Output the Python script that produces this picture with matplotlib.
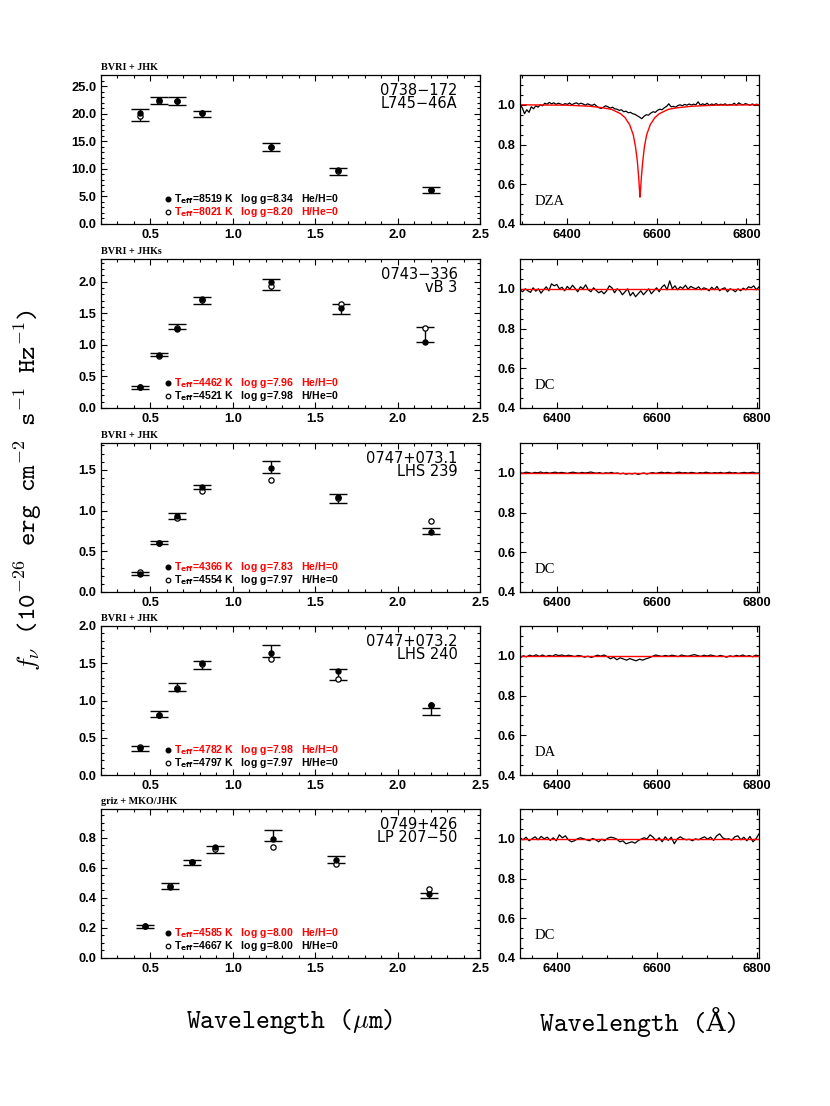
import numpy as np
import matplotlib
matplotlib.use("Agg")
from matplotlib import pyplot as plt
from matplotlib.ticker import MultipleLocator, FormatStrFormatter
from matplotlib.font_manager import FontProperties

plt.rcParams['mathtext.fontset'] = 'cm'

# ---- photometry (observed flux + error, H model = filled, He model = open)
wave_a = [0.438, 0.55, 0.66, 0.814, 1.234, 1.64, 2.204]
obs_a = [19.75, 22.4, 22.3, 19.9, 14.0, 9.5, 6.2]
err_a = [1.05, 0.7, 0.68, 0.6, 0.75, 0.6, 0.5]
hmod_a = [20.06, 22.5, 22.2, 20.06, 13.9, 9.8, 6.08]
hemod_a = [19.5, 22.3, 22.3, 20.2, 13.9, 9.6, 6.2]

wave_b = [0.438, 0.55, 0.66, 0.814, 1.234, 1.658, 2.164]
obs_b = [0.32, 0.842, 1.29, 1.70, 1.96, 1.567, 1.165]
err_b = [0.026, 0.026, 0.04, 0.053, 0.087, 0.083, 0.125]
hmod_b = [0.326, 0.842, 1.258, 1.73, 2.0, 1.58, 1.042]
hemod_b = [0.33, 0.816, 1.263, 1.716, 1.93, 1.64, 1.268]

wave_c = [0.438, 0.55, 0.66, 0.814, 1.234, 1.64, 2.204]
obs_c = [0.23, 0.605, 0.934, 1.29, 1.535, 1.146, 0.753]
err_c = [0.017, 0.02, 0.037, 0.03, 0.076, 0.056, 0.037]
hmod_c = [0.222, 0.597, 0.938, 1.284, 1.527, 1.165, 0.741]
hemod_c = [0.247, 0.597, 0.91, 1.235, 1.374, 1.152, 0.87]

wave_d = [0.438, 0.55, 0.66, 0.814, 1.234, 1.64, 2.204]
obs_d = [0.355, 0.817, 1.185, 1.478, 1.667, 1.348, 0.855]
err_d = [0.034, 0.04, 0.051, 0.049, 0.083, 0.076, 0.047]
hmod_d = [0.362, 0.804, 1.156, 1.50, 1.638, 1.40, 0.946]
hemod_d = [0.37, 0.81, 1.165, 1.487, 1.554, 1.29, 0.933]

wave_e = [0.468, 0.62, 0.75, 0.894, 1.244, 1.624, 2.192]
obs_e = [0.2125, 0.478, 0.636, 0.72, 0.813, 0.655, 0.416]
err_e = [0.01, 0.02, 0.018, 0.024, 0.035, 0.021, 0.018]
hmod_e = [0.211, 0.471, 0.637, 0.738, 0.793, 0.654, 0.425]
hemod_e = [0.211, 0.476, 0.641, 0.725, 0.738, 0.623, 0.46]

names = [["0738\u2212172", "L745\u221246A"], ["0743\u2212336", "vB 3"],
         ["0747+073.1", "LHS 239"], ["0747+073.2", "LHS 240"],
         ["0749+426", "LP 207\u221250"]]
bands = ["BVRI + JHK", "BVRI + JHKs", "BVRI + JHK", "BVRI + JHK", "griz + MKO/JHK"]
fit_h = [("8519", "8.34"), ("4462", "7.96"), ("4366", "7.83"), ("4782", "7.98"), ("4585", "8.00")]
fit_he = [("8021", "8.20"), ("4521", "7.98"), ("4554", "7.97"), ("4797", "7.97"), ("4667", "8.00")]
sptypes = ["DZA", "DC", "DC", "DA", "DC"]

# ---- spectra (normalized flux, read by eye)
spec_range = [(6296, 6828), (6325, 6805), (6325, 6805), (6325, 6805), (6325, 6805)]
flux_a = [1.000, 0.985, 0.955, 0.975, 0.962, 0.990, 0.980, 0.995, 0.988, 1.000,
          0.995, 1.008, 1.003, 1.012, 1.005, 1.010, 1.002, 1.008, 1.004, 1.000,
          1.006, 1.002, 1.009, 1.000, 1.006, 1.010, 1.003, 1.008, 1.004, 0.998,
          1.005, 1.000, 0.997, 1.003, 0.993, 0.985, 0.982, 0.988, 0.995, 0.990,
          0.983, 0.988, 0.980, 0.978, 0.972, 0.975, 0.965, 0.968, 0.960, 0.962,
          0.955, 0.952, 0.945, 0.938, 0.930, 0.942, 0.950, 0.948, 0.958, 0.965,
          0.962, 0.972, 0.978, 0.975, 0.985, 0.992, 1.005, 0.990, 0.992, 0.988,
          0.996, 1.000, 0.995, 1.002, 0.998, 1.004, 0.999, 1.003, 1.000, 1.015,
          0.998, 1.005, 1.000, 1.008, 0.997, 1.004, 1.000, 1.006, 0.998, 1.003,
          1.000, 1.005, 0.997, 1.002, 1.000, 1.008, 0.998, 1.010, 1.003, 1.000,
          1.006, 1.002, 0.998, 1.004, 1.000, 1.003, 0.999]
flux_b = [0.995, 0.985, 1.000, 0.990, 0.982, 1.005, 0.988, 1.000, 0.978, 0.995,
          1.010, 0.990, 1.025, 1.015, 1.022, 1.000, 1.008, 0.990, 1.012, 0.998,
          1.018, 1.002, 0.985, 1.010, 1.000, 1.020, 0.995, 0.985, 1.005, 0.992,
          0.980, 0.988, 0.975, 0.990, 1.015, 1.005, 0.980, 1.000, 0.990, 0.970,
          0.985, 1.000, 0.965, 0.982, 0.960, 0.975, 0.990, 0.970, 0.985, 1.000,
          0.975, 0.990, 1.005, 0.985, 1.008, 1.020, 0.995, 1.040, 1.000, 1.015,
          0.995, 1.010, 1.002, 1.018, 0.998, 1.012, 1.005, 1.000, 1.010, 0.995,
          1.005, 1.000, 0.990, 1.008, 0.995, 1.012, 0.990, 1.000, 1.005, 0.985,
          1.000, 0.995, 0.985, 1.000, 0.990, 1.003, 0.995, 1.010, 1.005, 1.015,
          0.995, 1.010]
flux_c = [1.000, 0.998, 1.003, 1.001, 0.997, 1.002, 1.000, 1.004, 0.999, 1.002,
          0.998, 1.001, 1.003, 0.999, 1.002, 1.000, 0.997, 1.001, 1.003, 1.000,
          0.998, 1.002, 0.999, 1.001, 1.004, 1.000, 0.998, 1.001, 0.996, 1.000,
          0.998, 1.002, 0.997, 0.999, 0.995, 0.998, 0.993, 0.997, 0.994, 0.998,
          0.992, 0.996, 0.999, 0.994, 0.998, 1.001, 0.997, 1.000, 1.003, 0.999,
          1.002, 1.000, 0.997, 1.001, 1.003, 0.999, 1.001, 0.998, 1.002, 1.000,
          0.997, 1.001, 0.999, 1.003, 1.000, 0.998, 1.001, 0.999, 1.002, 0.998,
          1.000, 1.003, 0.999, 1.001, 0.997, 1.000, 1.002, 0.999, 1.001, 1.003,
          0.998, 1.000]
flux_d = [0.990, 1.000, 0.995, 1.003, 0.998, 1.005, 0.997, 1.004, 0.996, 1.002,
          0.998, 1.006, 1.001, 1.004, 0.999, 1.003, 1.000, 0.996, 1.002, 0.999,
          0.993, 0.998, 0.992, 0.997, 1.003, 0.998, 1.004, 0.996, 0.985, 0.993,
          0.980, 0.990, 0.984, 0.978, 0.986, 0.980, 0.975, 0.983, 0.978, 0.985,
          0.990, 0.997, 1.004, 1.000, 0.997, 1.002, 0.998, 1.003, 1.000, 0.996,
          1.004, 1.000, 0.998, 1.002, 1.006, 1.001, 0.997, 1.003, 0.999, 1.004,
          1.000, 0.996, 1.002, 0.998, 0.993, 1.000, 0.996, 1.002, 0.998, 1.004,
          0.997, 1.001, 0.995, 1.003, 1.000]
flux_e = [1.005, 0.995, 1.008, 0.990, 1.000, 1.010, 0.995, 1.012, 1.000, 1.008,
          0.992, 1.005, 0.990, 1.020, 1.005, 1.015, 0.995, 0.985, 0.990, 1.000,
          1.005, 1.000, 0.995, 0.990, 1.002, 0.995, 0.985, 0.998, 0.990, 1.003,
          1.008, 1.005, 0.998, 0.985, 0.990, 0.975, 0.980, 0.985, 0.978, 0.990,
          0.998, 1.005, 1.000, 1.020, 1.008, 0.990, 1.005, 0.985, 1.010, 0.992,
          1.008, 0.975, 1.000, 1.010, 1.000, 0.995, 0.998, 0.990, 1.000, 0.995,
          1.003, 1.010, 0.998, 1.008, 0.992, 1.015, 1.025, 1.005, 0.998, 1.000,
          0.993, 1.010, 1.015, 0.995, 1.008, 0.990, 1.012, 0.985, 1.000, 1.025]

# model H-alpha profile for 0738-172, flat models elsewhere
model_wave_a = [6296, 6400, 6450, 6480, 6500, 6520, 6530, 6540, 6548, 6553, 6557,
                6560, 6562, 6563, 6564, 6566, 6569, 6573, 6578, 6586, 6596, 6606,
                6626, 6646, 6680, 6730, 6828]
model_flux_a = [1.0, 0.998, 0.993, 0.985, 0.977, 0.955, 0.935, 0.90, 0.85, 0.79, 0.72,
                0.64, 0.57, 0.535, 0.56, 0.63, 0.71, 0.79, 0.85, 0.90, 0.935, 0.955,
                0.977, 0.985, 0.993, 0.998, 1.0]

phot = [(wave_a, obs_a, err_a, hmod_a, hemod_a), (wave_b, obs_b, err_b, hmod_b, hemod_b),
        (wave_c, obs_c, err_c, hmod_c, hemod_c), (wave_d, obs_d, err_d, hmod_d, hemod_d),
        (wave_e, obs_e, err_e, hmod_e, hemod_e)]
spectra = [flux_a, flux_b, flux_c, flux_d, flux_e]
ylims = [27.0, 2.36, 1.83, 2.0, 0.99]
ymajor = [5.0, 0.5, 0.5, 0.5, 0.2]
yminor = [1.0, 0.1, 0.1, 0.1, 0.05]
h_red = [False, True, True, True, True]   # which fit line is red

tick_fp = FontProperties(family='Liberation Sans', weight='bold', size=9.3)

fig = plt.figure(figsize=(8.3, 11.06), dpi=100)
W, H = 830.0, 1106.0
tops = [75, 259, 443, 626, 809]
ph = 149

def style_axes(ax):
    ax.tick_params(which='both', direction='in', top=True, right=True, width=0.8)
    ax.tick_params(which='major', length=4.5)
    ax.tick_params(which='minor', length=2.2)
    for lab in ax.get_xticklabels() + ax.get_yticklabels():
        lab.set_fontproperties(tick_fp)
    for s in ax.spines.values():
        s.set_linewidth(0.9)

for i in range(5):
    bottom = 1 - (tops[i] + ph) / H
    axl = fig.add_axes([101 / W, bottom, 379 / W, ph / H])
    axr = fig.add_axes([520 / W, bottom, 239 / W, ph / H])

    wv, ob, er, hm, hem = phot[i]
    axl.errorbar(wv, ob, yerr=er, fmt='none', ecolor='black', elinewidth=1.0,
                 capsize=6.7, capthick=1.0)
    axl.plot(wv, hem, 'o', mfc='white', mec='black', mew=0.9, ms=3.8)
    axl.plot(wv, hm, 'o', color='black', ms=3.6)
    axl.set_xlim(0.2, 2.5)
    axl.set_ylim(0, ylims[i])
    axl.xaxis.set_major_locator(MultipleLocator(0.5))
    axl.xaxis.set_minor_locator(MultipleLocator(0.1))
    axl.yaxis.set_major_locator(MultipleLocator(ymajor[i]))
    axl.yaxis.set_minor_locator(MultipleLocator(yminor[i]))
    axl.xaxis.set_major_formatter(FormatStrFormatter('%.1f'))
    axl.yaxis.set_major_formatter(FormatStrFormatter('%.1f'))
    style_axes(axl)

    axl.text(0.941, 0.895, names[i][0], transform=axl.transAxes, ha='right', va='center',
             family='DejaVu Sans', size=10.5)
    axl.text(0.941, 0.806, names[i][1], transform=axl.transAxes, ha='right', va='center',
             family='DejaVu Sans', size=10.5)
    axl.text(0.0, 1.02, bands[i], transform=axl.transAxes, ha='left', va='bottom',
             family='Liberation Serif', weight='bold', size=7.3)

    c1 = 'red' if h_red[i] else 'black'
    c2 = 'black' if h_red[i] else 'red'
    t1 = r'T$_{\bf eff}$=%s K   log g=%s   He/H=0' % fit_h[i]
    t2 = r'T$_{\bf eff}$=%s K   log g=%s   H/He=0' % fit_he[i]
    axl.plot([0.176], [0.167], 'o', color='black', ms=3.3, transform=axl.transAxes)
    axl.plot([0.176], [0.078], 'o', mfc='white', mec='black', mew=0.9, ms=3.3,
             transform=axl.transAxes)
    axl.text(0.193, 0.167, t1, transform=axl.transAxes, ha='left', va='center', color=c1,
             family='Liberation Sans', weight='bold', size=7.6, math_fontfamily='dejavusans')
    axl.text(0.193, 0.078, t2, transform=axl.transAxes, ha='left', va='center', color=c2,
             family='Liberation Sans', weight='bold', size=7.6, math_fontfamily='dejavusans')

    w0, w1 = spec_range[i]
    fl = spectra[i]
    axr.plot(np.linspace(w0, w1, len(fl)), fl, color='black', lw=0.9)
    if i == 0:
        axr.plot(model_wave_a, model_flux_a, color='red', lw=1.0)
    else:
        axr.plot([w0, w1], [1.0, 1.0], color='red', lw=1.0)
    axr.set_xlim(w0, w1)
    axr.set_ylim(0.4, 1.15)
    axr.xaxis.set_major_locator(MultipleLocator(200))
    axr.xaxis.set_minor_locator(MultipleLocator(50))
    axr.yaxis.set_major_locator(MultipleLocator(0.2))
    axr.yaxis.set_minor_locator(MultipleLocator(0.05))
    axr.yaxis.set_major_formatter(FormatStrFormatter('%.1f'))
    style_axes(axr)
    axr.text(0.063, 0.15, sptypes[i], transform=axr.transAxes, ha='left', va='center',
             family='Liberation Serif', size=10.5)

label_font = ['cmtt10', 'DejaVu Serif']
fig.text(290 / W, 1 - 1022 / H, r'Wavelength ($\mu$m)', family=label_font,
         ha='center', va='center', size=19)
fig.text(640 / W, 1 - 1022 / H, 'Wavelength (\u00c5)', family=label_font,
         ha='center', va='center', size=19)
fig.text(28 / W, 1 - 490 / H,
         r'$f_\nu$ (10$^{-26}$ erg cm$^{-2}$ s$^{-1}$ Hz$^{-1}$)', family=label_font,
         ha='center', va='center', rotation=90, size=18.5)

fig.savefig('out.png', dpi=100)
